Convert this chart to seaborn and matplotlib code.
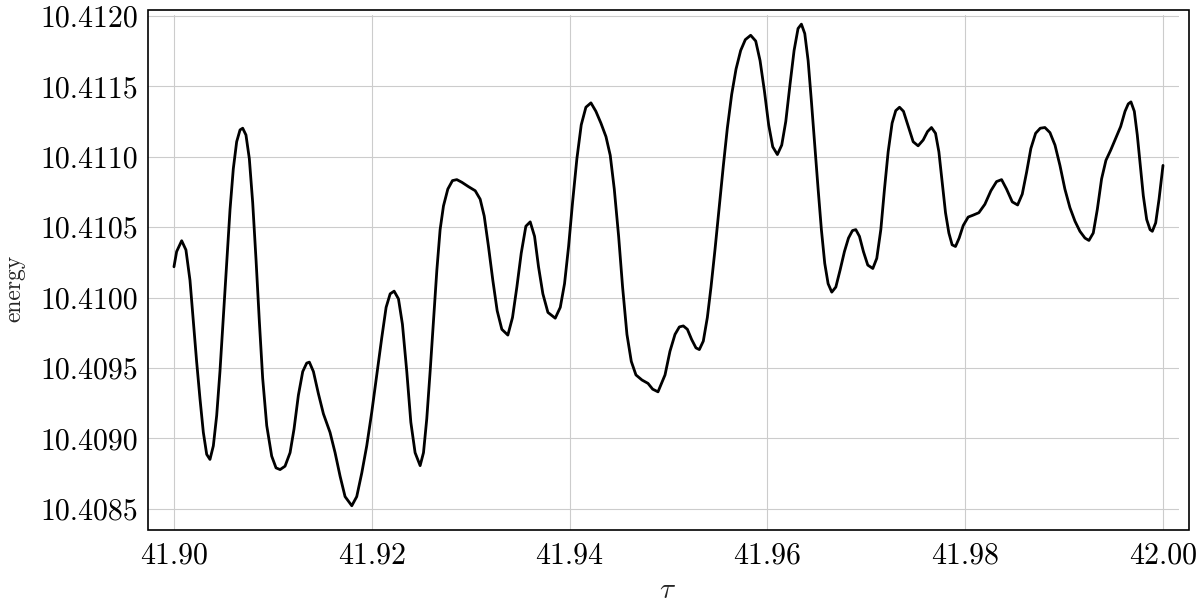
import matplotlib
matplotlib.use("Agg")

import matplotlib.pyplot as plt
import pandas as pd
import seaborn as sns
from matplotlib.patches import Rectangle
from matplotlib.ticker import FixedLocator, StrMethodFormatter

# values
tau = [
    41.90000, 41.90027, 41.90078, 41.90121, 41.90162, 41.90196, 41.90229, 41.90263,
    41.90297, 41.90331, 41.90364, 41.90398, 41.90432, 41.90465, 41.90499, 41.90533,
    41.90567, 41.90600, 41.90634, 41.90668, 41.90695, 41.90728, 41.90762, 41.90796,
    41.90830, 41.90863, 41.90897, 41.90938, 41.90988, 41.91032, 41.91073, 41.91123,
    41.91174, 41.91214, 41.91258, 41.91302, 41.91342, 41.91369, 41.91410, 41.91460,
    41.91511, 41.91578, 41.91629, 41.91680, 41.91730, 41.91798, 41.91848, 41.91899,
    41.91949, 41.92000, 41.92051, 41.92101, 41.92145, 41.92186, 41.92226, 41.92270,
    41.92310, 41.92354, 41.92395, 41.92438, 41.92489, 41.92523, 41.92556, 41.92590,
    41.92624, 41.92658, 41.92691, 41.92725, 41.92769, 41.92816, 41.92860, 41.92911,
    41.92978, 41.93046, 41.93096, 41.93137, 41.93180, 41.93224, 41.93268, 41.93315,
    41.93376, 41.93423, 41.93467, 41.93511, 41.93558, 41.93602, 41.93646, 41.93686,
    41.93730, 41.93781, 41.93855, 41.93906, 41.93949, 41.93990, 41.94030, 41.94074,
    41.94118, 41.94165, 41.94216, 41.94266, 41.94317, 41.94368, 41.94411, 41.94452,
    41.94496, 41.94536, 41.94580, 41.94624, 41.94671, 41.94732, 41.94793, 41.94840,
    41.94894, 41.94965, 41.95015, 41.95066, 41.95110, 41.95150, 41.95191, 41.95234,
    41.95278, 41.95312, 41.95352, 41.95393, 41.95430, 41.95470, 41.95511, 41.95555,
    41.95595, 41.95639, 41.95683, 41.95730, 41.95777, 41.95831, 41.95882, 41.95926,
    41.95970, 41.96013, 41.96054, 41.96101, 41.96145, 41.96186, 41.96229, 41.96270,
    41.96310, 41.96344, 41.96378, 41.96412, 41.96445, 41.96479, 41.96513, 41.96546,
    41.96580, 41.96614, 41.96651, 41.96692, 41.96735, 41.96779, 41.96820, 41.96860,
    41.96894, 41.96931, 41.96971, 41.97015, 41.97066, 41.97106, 41.97147, 41.97184,
    41.97221, 41.97261, 41.97298, 41.97336, 41.97376, 41.97430, 41.97474, 41.97524,
    41.97575, 41.97619, 41.97659, 41.97700, 41.97734, 41.97767, 41.97801, 41.97835,
    41.97868, 41.97902, 41.97939, 41.97980, 41.98030, 41.98081, 41.98138, 41.98199,
    41.98260, 41.98317, 41.98368, 41.98418, 41.98476, 41.98530, 41.98577, 41.98621,
    41.98664, 41.98712, 41.98759, 41.98806, 41.98857, 41.98908, 41.98958, 41.99008,
    41.99059, 41.99110, 41.99160, 41.99211, 41.99251, 41.99295, 41.99336, 41.99379,
    41.99423, 41.99471, 41.99521, 41.99572, 41.99616, 41.99649, 41.99676, 41.99710,
    41.99740, 41.99771, 41.99801, 41.99835, 41.99869, 41.99892, 41.99926, 41.99960,
    42.00000,
]
energy = [
    10.410219, 10.410327, 10.410404, 10.410339, 10.410123, 10.409835, 10.409547, 10.409283,
    10.409043, 10.408887, 10.408851, 10.408947, 10.409163, 10.409475, 10.409859, 10.410243,
    10.410627, 10.410915, 10.411107, 10.411191, 10.411203, 10.411155, 10.410987, 10.410675,
    10.410267, 10.409835, 10.409427, 10.409091, 10.408875, 10.408791, 10.408779, 10.408803,
    10.408899, 10.409067, 10.409307, 10.409475, 10.409535, 10.409542, 10.409475, 10.409319,
    10.409175, 10.409043, 10.408899, 10.408731, 10.408587, 10.408522, 10.408587, 10.408755,
    10.408947, 10.409187, 10.409451, 10.409715, 10.409931, 10.410027, 10.410046, 10.409991,
    10.409811, 10.409475, 10.409115, 10.408899, 10.408807, 10.408899, 10.409139, 10.409475,
    10.409835, 10.410195, 10.410483, 10.410651, 10.410771, 10.410831, 10.410838, 10.410819,
    10.410788, 10.410759, 10.410699, 10.410579, 10.410363, 10.410123, 10.409907, 10.409775,
    10.409734, 10.409859, 10.410075, 10.410315, 10.410507, 10.410538, 10.410435, 10.410219,
    10.410027, 10.409895, 10.409854, 10.409931, 10.410099, 10.410363, 10.410675, 10.410987,
    10.411227, 10.411352, 10.411383, 10.411323, 10.411239, 10.411143, 10.411011, 10.410771,
    10.410435, 10.410075, 10.409739, 10.409547, 10.409451, 10.409415, 10.409391, 10.409350,
    10.409331, 10.409451, 10.409619, 10.409739, 10.409792, 10.409799, 10.409775, 10.409703,
    10.409643, 10.409631, 10.409691, 10.409859, 10.410075, 10.410339, 10.410627, 10.410939,
    10.411203, 10.411443, 10.411623, 10.411755, 10.411832, 10.411863, 10.411822, 10.411683,
    10.411467, 10.411227, 10.411071, 10.411016, 10.411083, 10.411251, 10.411515, 10.411755,
    10.411911, 10.411942, 10.411875, 10.411683, 10.411395, 10.411083, 10.410771, 10.410483,
    10.410243, 10.410099, 10.410039, 10.410075, 10.410195, 10.410327, 10.410423, 10.410476,
    10.410483, 10.410435, 10.410327, 10.410231, 10.410207, 10.410279, 10.410483, 10.410771,
    10.411035, 10.411239, 10.411328, 10.411352, 10.411323, 10.411203, 10.411107, 10.411078,
    10.411119, 10.411179, 10.411208, 10.411167, 10.411035, 10.410819, 10.410603, 10.410459,
    10.410375, 10.410363, 10.410423, 10.410512, 10.410572, 10.410586, 10.410603, 10.410663,
    10.410759, 10.410824, 10.410838, 10.410771, 10.410680, 10.410658, 10.410735, 10.410891,
    10.411059, 10.411167, 10.411203, 10.411208, 10.411172, 10.411083, 10.410939, 10.410771,
    10.410639, 10.410543, 10.410471, 10.410423, 10.410406, 10.410459, 10.410627, 10.410843,
    10.410975, 10.411047, 10.411131, 10.411215, 10.411323, 10.411376, 10.411390, 10.411323,
    10.411155, 10.410939, 10.410723, 10.410555, 10.410483, 10.410471, 10.410531, 10.410699,
    10.410939,
]
x_ticks = [41.90, 41.92, 41.94, 41.96, 41.98, 42.00]
y_ticks = [10.4085, 10.4090, 10.4095, 10.4100, 10.4105, 10.4110, 10.4115, 10.4120]

sns.set_style("whitegrid")
plt.rcParams.update({
    "font.family": ["cmr10", "DejaVu Serif"],
    "mathtext.fontset": "cm",
    "axes.formatter.use_mathtext": True,
})

df = pd.DataFrame({"tau": tau, "energy": energy})

fig = plt.figure(figsize=(12, 6), dpi=100)
ax = fig.add_axes([0.1233, 0.1167, 0.8592, 0.8583])
sns.lineplot(data=df, x="tau", y="energy", color="black", linewidth=2.0,
             estimator=None, ax=ax, solid_joinstyle="round", solid_capstyle="round")

ax.set_xlim(41.897371, 42.001618)
ax.set_ylim(10.408350, 10.412007)
ax.xaxis.set_major_locator(FixedLocator(x_ticks))
ax.yaxis.set_major_locator(FixedLocator(y_ticks))
ax.xaxis.set_major_formatter(StrMethodFormatter("{x:.2f}"))
ax.yaxis.set_major_formatter(StrMethodFormatter("{x:.4f}"))

ax.grid(True, color="#cccccc", linewidth=0.8)
for sp in ax.spines.values():
    sp.set_visible(False)

# closed frame a little wider than the data area (grid stops short of top/right)
frame = Rectangle((148 / 1200, 70 / 600), 1041 / 1200, 520 / 600,
                  transform=fig.transFigure, fill=False, edgecolor="black",
                  linewidth=1.2, zorder=5)
fig.patches.append(frame)

ax.tick_params(axis="both", direction="in", length=8, width=0.8, color="black",
               labelsize=21.5, labelcolor="black", top=False, right=False)
ax.tick_params(axis="x", pad=9)
ax.tick_params(axis="y", pad=7)

ax.set_xlabel(r"$\tau$", fontsize=21)
ax.set_ylabel("energy", fontsize=17)
ax.xaxis.set_label_coords(0.504, -0.093)
ax.yaxis.set_label_coords(-0.119, 0.47)

fig.savefig("out.png", dpi=100)
